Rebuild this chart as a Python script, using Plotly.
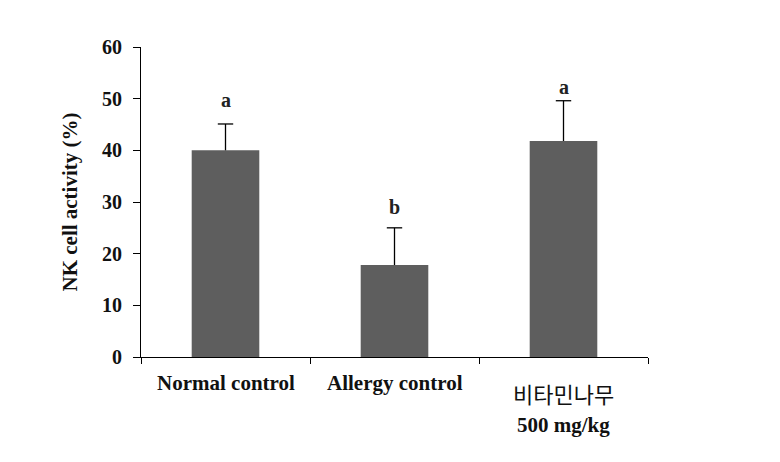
import plotly.graph_objects as go

groups = ["Normal control", "Allergy control", "비타민나무 500 mg/kg"]
activity = [40, 17.8, 41.8]
sd = [5.1, 7.2, 7.8]
letters = ["a", "b", "a"]
letter_pos = [49.7, 29.0, 52.3]
y_ticks = [0, 10, 20, 30, 40, 50, 60]

serif = "Liberation Serif, Times New Roman, serif"

fig = go.Figure()
fig.add_trace(go.Bar(
    x=groups, y=activity, width=0.4,
    marker=dict(color="#5e5e5e", line=dict(width=0)),
))

# upper-only error bars: stems and caps
stem_x, stem_y = [], []
for g, v, e in zip(groups, activity, sd):
    stem_x += [g, g, None]
    stem_y += [v, v + e, None]
fig.add_trace(go.Scatter(x=stem_x, y=stem_y, mode="lines",
                         line=dict(color="black", width=1.3), hoverinfo="skip"))
fig.add_trace(go.Scatter(x=groups, y=[v + e for v, e in zip(activity, sd)], mode="markers",
                         marker=dict(symbol="line-ew", size=11, line=dict(color="black", width=1.3)),
                         hoverinfo="skip"))

# significance letters
for g, p, l in zip(groups, letter_pos, letters):
    fig.add_annotation(x=g, y=p, text="<b>" + l + "</b>", showarrow=False,
                       font=dict(family=serif, size=20, color="#222"))

# category labels
label_lines = [["<b>Normal control</b>"], ["<b>Allergy control</b>"],
               ["비타민나무", "<b>500 mg/kg</b>"]]
for g, lines in zip(groups, label_lines):
    if len(lines) == 1:
        fig.add_annotation(x=g, y=0, yref="y", yshift=-26, text=lines[0], showarrow=False,
                           font=dict(family=serif, size=21, color="#111"))
    else:
        fig.add_annotation(x=g, y=0, yref="y", yshift=-36, text=lines[0], showarrow=False,
                           font=dict(family="Noto Sans CJK KR", size=22, color="#111"))
        fig.add_annotation(x=g, y=0, yref="y", yshift=-68, text=lines[1], showarrow=False,
                           font=dict(family=serif, size=21, color="#111"))

fig.update_layout(
    width=780, height=462,
    margin=dict(l=133, r=140, t=39, b=113),
    plot_bgcolor="white", paper_bgcolor="white",
    showlegend=False,
)
fig.update_xaxes(
    showline=True, linecolor="black", linewidth=1,
    ticks="outside", tickson="boundaries", ticklen=6, tickcolor="black",
    showticklabels=False, showgrid=False,
)
fig.update_yaxes(
    range=[0, 60], tickvals=y_ticks, ticktext=["<b>%d</b>" % t for t in y_ticks],
    showline=True, linecolor="black", linewidth=1,
    ticks="outside", ticklen=7, tickcolor="black", showgrid=False, zeroline=False,
    tickfont=dict(family=serif, size=20, color="#111"), ticklabelstandoff=7,
    title=dict(text="<b>NK cell activity (%)</b>", font=dict(family=serif, size=21, color="#111"),
               standoff=18),
)
fig.update_traces(cliponaxis=False)

fig.write_html("out.html")
